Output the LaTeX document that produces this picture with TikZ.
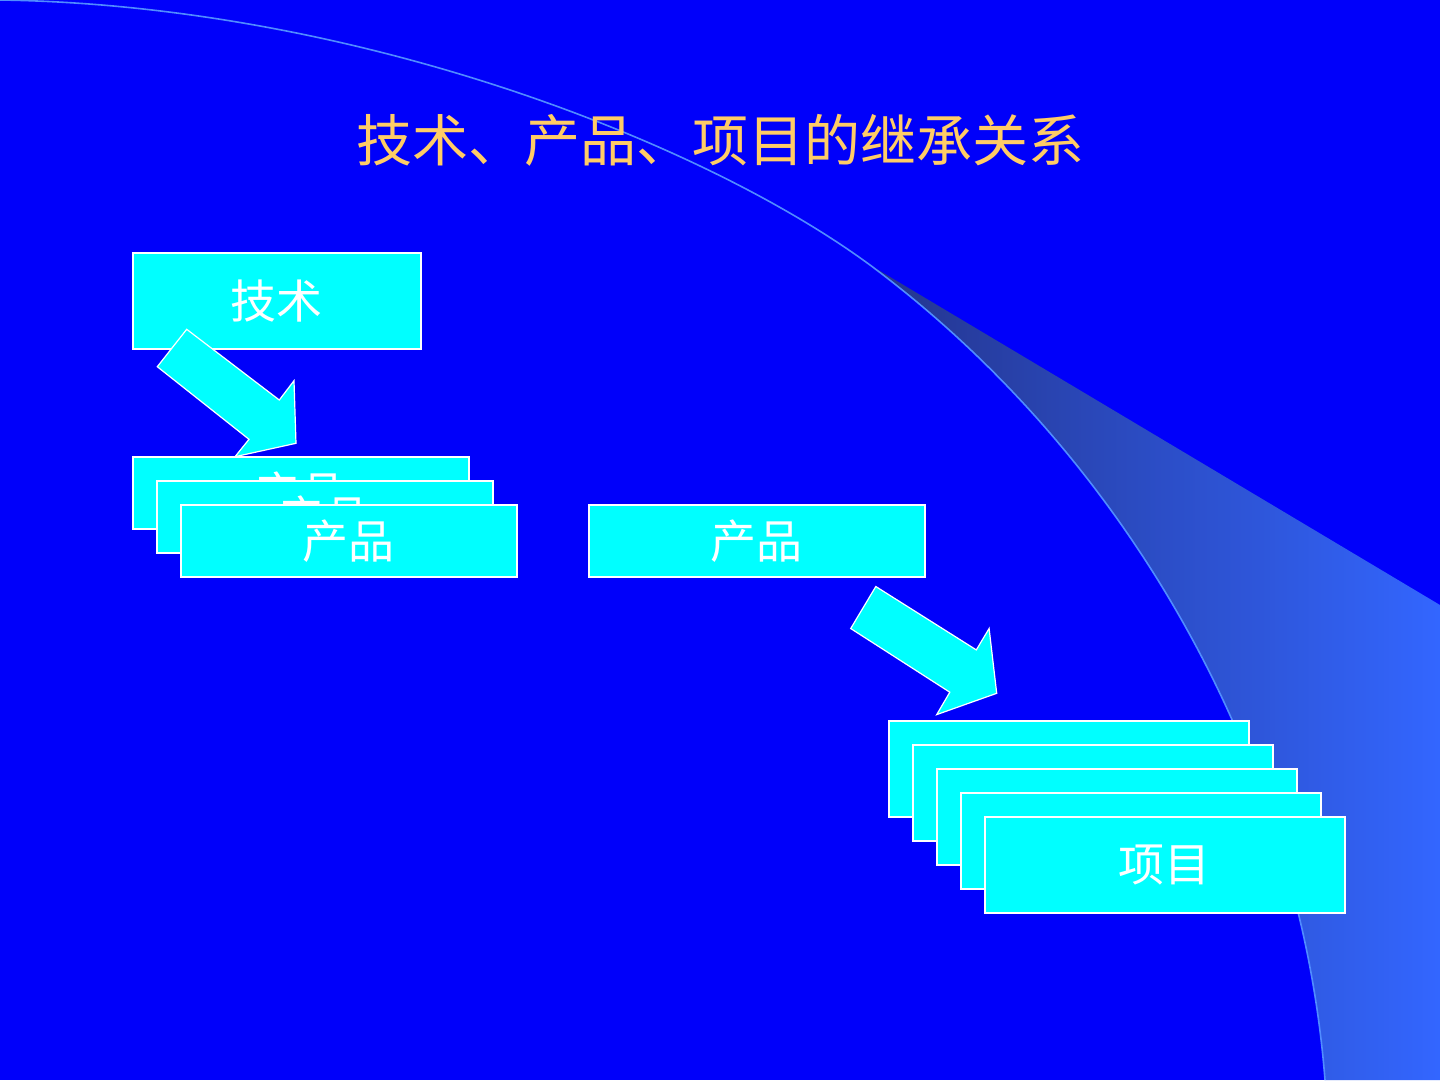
\documentclass[tikz,border=0pt]{standalone}
\usepackage{fontspec}
\newfontfamily\cjk{Noto Sans CJK SC}
\definecolor{bg}{RGB}{0,0,250}
\definecolor{cyanbox}{RGB}{0,255,255}
\definecolor{titlecol}{RGB}{255,204,102}
\definecolor{curvecol}{RGB}{80,140,255}
\definecolor{shadeL}{RGB}{36,52,140}
\definecolor{shadeR}{RGB}{51,102,255}
\tikzset{
  box/.style={draw=white, line width=1.5pt, fill=cyanbox, inner sep=0pt, text=white,
    font=\cjk\fontsize{46}{50}\selectfont, anchor=north west},
  blockarrow/.style={draw=white, line width=1.2pt, fill=cyanbox, line join=miter},
}
\begin{document}
\begin{tikzpicture}[x=1pt,y=-1pt]
\useasboundingbox (0,0) rectangle (1440,1080);
\fill[bg] (0,0) rectangle (1440,1080);
% shaded wedge
\shade[left color=shadeL, right color=shadeR]
  (870,265) -- (1440,605) -- (1440,1080) -- (1325,1080)
  .. controls (1300,760) and (1125,455) .. (870,265) -- cycle;
% curve line
\draw[curvecol, line width=1.6pt]
  (0,0) .. controls (350,5) and (700,140) .. (870,265)
  .. controls (1125,455) and (1300,760) .. (1325,1080);
% title
\node[text=titlecol, font=\cjk\fontsize{56}{60}\selectfont] (title) at (720,140) {技术、产品、项目的继承关系};
% tech box
\node[box, minimum width=288pt, minimum height=96pt] (tech) at (132,252) {技术};
% arrow 1
\draw[blockarrow] (186.7,329.3) -- (279.3,400) -- (294,380.7) -- (296,443.3)
  -- (235,456.7) -- (249,439.3) -- (157.3,366.7) -- cycle;
% product stack
\node[box, minimum width=336pt, minimum height=72pt] (p1) at (132,456) {产品};
\node[box, minimum width=336pt, minimum height=72pt] (p2) at (156,480) {产品};
\node[box, minimum width=336pt, minimum height=72pt] (p3) at (180,504) {产品};
% right product
\node[box, minimum width=336pt, minimum height=72pt] (pr) at (588,504) {产品};
% arrow 2
\draw[blockarrow] (875.8,586.5) -- (976.3,649.9) -- (989.1,628.5) -- (996.7,693.3)
  -- (936.7,714.6) -- (949.8,692.2) -- (850.7,628.5) -- cycle;
% project stack
\node[box, minimum width=360pt, minimum height=96pt] (j1) at (888,720) {};
\node[box, minimum width=360pt, minimum height=96pt] (j2) at (912,744) {};
\node[box, minimum width=360pt, minimum height=96pt] (j3) at (936,768) {};
\node[box, minimum width=360pt, minimum height=96pt] (j4) at (960,792) {};
\node[box, minimum width=360pt, minimum height=96pt] (j5) at (984,816) {项目};
\end{tikzpicture}
\end{document}
